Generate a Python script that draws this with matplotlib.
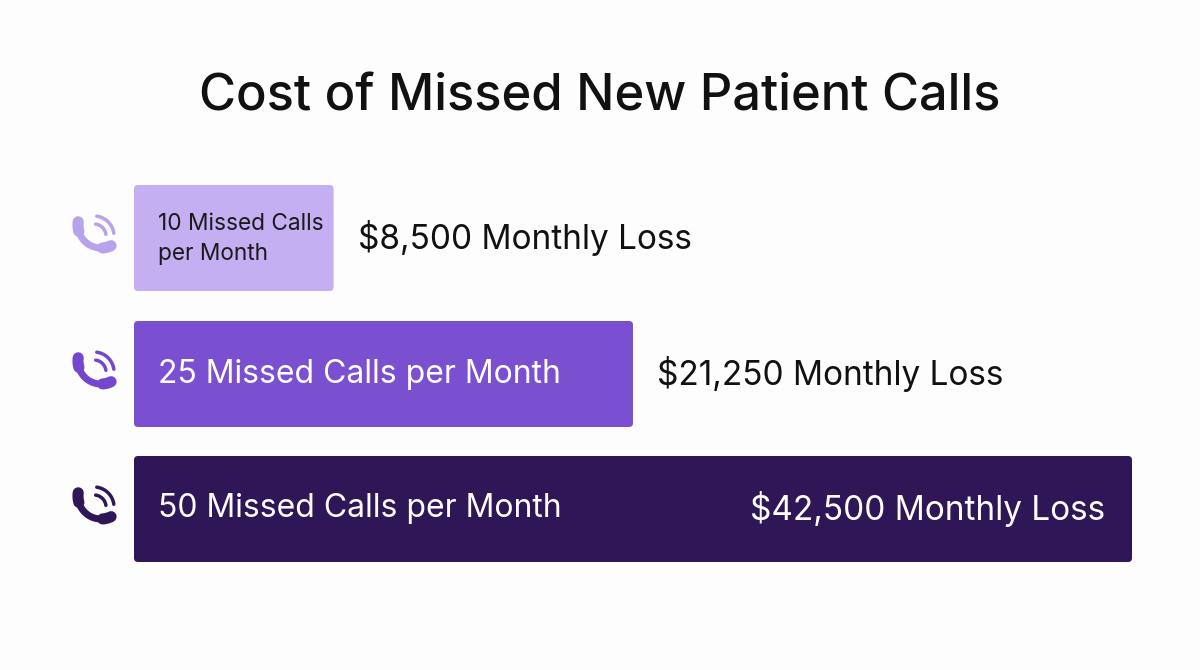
import numpy as np
import matplotlib
matplotlib.use("Agg")
import matplotlib.pyplot as plt
from matplotlib.patches import FancyBboxPatch

plt.rcParams['font.family'] = ['Inter', 'DejaVu Sans']

# ---- data ----
title = "Cost of Missed New Patient Calls"
calls = [10, 25, 50]
losses = [8500, 21250, 42500]
bar_labels = ["10 Missed Calls\nper Month", "25 Missed Calls per Month", "50 Missed Calls per Month"]
loss_labels = ["$8,500 Monthly Loss", "$21,250 Monthly Loss", "$42,500 Monthly Loss"]
bar_colors = ["#c3aff2", "#7a4fd0", "#2f1757"]
icon_colors = ["#b9a2ec", "#7547cf", "#2f1757"]

W, H = 1200, 670
fig = plt.figure(figsize=(12, 6.7), dpi=100, facecolor="#fdfdfd")
ax = fig.add_axes([0, 0, 1, 1])
ax.set_facecolor("#fdfdfd")

# x in dollars, bars start at px 134 and the biggest ends at px 1132
x0_px, x1_px = 134, 1132
k = max(losses) / (x1_px - x0_px)   # dollars per pixel
ax.set_xlim(-x0_px * k, (W - x0_px) * k)
ax.set_ylim(H, 0)
ax.axis("off")


def px(x):
    # pixel column -> dollars
    return (x - x0_px) * k


ax.text(px(600), 97, title, ha="center", va="center",
        fontsize=36.5, fontweight="medium", color="#111111")

y_centers = [238, 374, 509]
bar_h = 106


def phone_icon(cx, cy, color):
    # handset: arc around a point up-right of the icon centre
    hx, hy, r = cx + 6, cy - 13, 23
    deg = np.pi / 180
    t = np.linspace(80 * deg, 170 * deg, 40)
    ax.plot(px(hx + r * np.cos(t)), hy + r * np.sin(t),
            color=color, lw=5, solid_capstyle="round")
    # ear / mouth pads (thicker ends)
    for a0, a1 in ((64, 86), (164, 188)):
        t = np.linspace(a0 * deg, a1 * deg, 20)
        ax.plot(px(hx + r * np.cos(t)), hy + r * np.sin(t),
                color=color, lw=8, solid_capstyle="round")
    # sound waves
    wx, wy = cx - 1, cy - 2
    for rr in (12, 20):
        t = np.linspace(-82 * deg, -8 * deg, 30)
        ax.plot(px(wx + rr * np.cos(t)), wy + rr * np.sin(t),
                color=color, lw=2.5, solid_capstyle="round")


for i in range(len(losses)):
    yc = y_centers[i]
    box = FancyBboxPatch((0, yc - bar_h / 2), losses[i], bar_h,
                         boxstyle="round,pad=0,rounding_size=%f" % (4 * k),
                         mutation_aspect=1 / k, facecolor=bar_colors[i],
                         edgecolor="none")
    ax.add_patch(box)
    phone_icon(95, yc, icon_colors[i])

    if i == 0:
        ax.text(24 * k, yc + 1, bar_labels[i], ha="left", va="center",
                fontsize=16.3, color="#1a1a1a", linespacing=1.5)
    else:
        ax.text(24 * k, yc, bar_labels[i], ha="left", va="center",
                fontsize=23, color="white")

    if losses[i] == max(losses):
        ax.text(losses[i] - 27 * k, yc, loss_labels[i], ha="right", va="center",
                fontsize=24, color="white")
    else:
        ax.text(losses[i] + 24 * k, yc, loss_labels[i], ha="left", va="center",
                fontsize=24, color="#111111")

fig.savefig("out.png", dpi=100, facecolor=fig.get_facecolor())
